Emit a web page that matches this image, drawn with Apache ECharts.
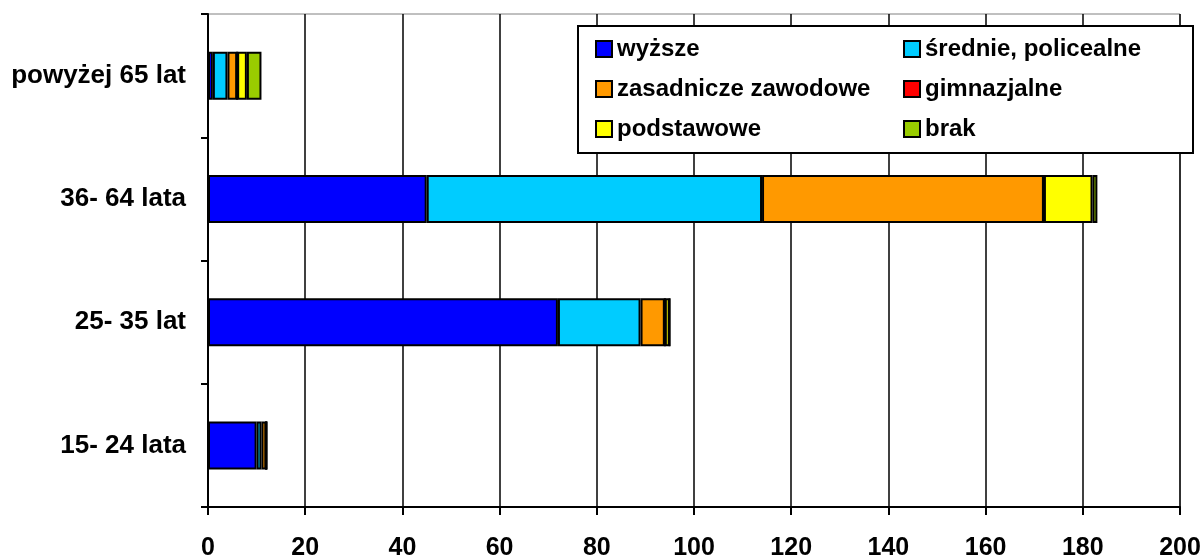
<!DOCTYPE html>
<html>
<head>
<meta charset="utf-8">
<script src="https://cdn.jsdelivr.net/npm/echarts@6/dist/echarts.min.js"></script>
<style>
  html, body { margin: 0; padding: 0; background: #fff; }
  #main { width: 1204px; height: 558px; }
</style>
</head>
<body>
<div id="main"></div>
<script>
// kategorie wiekowe (od dołu do góry)
var ageGroups = ["15- 24 lata", "25- 35 lat", "36- 64 lata", "powyżej 65 lat"];
// wykształcenie
var wyzsze = [10, 72, 45, 1];
var srednie = [1, 17, 69, 3];
var zasadnicze = [1, 5, 58, 2];
var gimnazjalne = [0, 0, 0, 0];
var podstawowe = [0, 1, 10, 2];
var brak = [0, 0, 1, 3];

var font = "Liberation Sans";

function bar(name, data, color) {
  return {
    name: name,
    type: "bar",
    stack: "all",
    barWidth: 48,
    data: data,
    itemStyle: { color: color, borderColor: "#000", borderWidth: 2 },
  };
}

var legendText = { fontFamily: font, fontWeight: "bold", fontSize: 24, color: "#000" };

var myChart = echarts.init(document.getElementById("main"));
var option = {
  animation: false,
  backgroundColor: "#fff",
  grid: {
    left: 208, right: 24, top: 14, bottom: 51,
    outerBoundsMode: "none",
    show: true, borderColor: "#808080", borderWidth: 1,
  },
  xAxis: {
    type: "value",
    min: 0, max: 200, interval: 20,
    axisLine: { show: true, lineStyle: { color: "#000", width: 2 } },
    axisTick: { show: true, length: 8, lineStyle: { color: "#000", width: 2 } },
    axisLabel: { margin: 29, color: "#000", fontFamily: font, fontWeight: "bold", fontSize: 25 },
    splitLine: { show: true, lineStyle: { color: "#000", width: 1.5 } },
  },
  yAxis: {
    type: "category",
    data: ageGroups,
    axisLine: { show: true, lineStyle: { color: "#000", width: 2 } },
    axisTick: { show: true, length: 7, lineStyle: { color: "#000", width: 2 } },
    axisLabel: { margin: 22, color: "#000", fontFamily: font, fontWeight: "bold", fontSize: 26 },
  },
  legend: [
    {
      orient: "vertical", left: 595, top: 37, padding: 0,
      icon: "rect", itemWidth: 16, itemHeight: 16, itemGap: 16,
      itemStyle: { borderColor: "#000", borderWidth: 2 },
      textStyle: legendText,
      data: ["wyższe", "zasadnicze zawodowe", "podstawowe"],
    },
    {
      orient: "vertical", left: 903, top: 37, padding: 0,
      icon: "rect", itemWidth: 16, itemHeight: 16, itemGap: 16,
      itemStyle: { borderColor: "#000", borderWidth: 2 },
      textStyle: legendText,
      data: ["średnie, policealne", "gimnazjalne", "brak"],
    },
  ],
  graphic: [
    {
      type: "rect", z: 3,
      shape: { x: 578, y: 26, width: 615, height: 127 },
      style: { fill: "#fff", stroke: "#000", lineWidth: 2 },
    },
  ],
  series: [
    bar("wyższe", wyzsze, "#0000FF"),
    bar("średnie, policealne", srednie, "#00CCFF"),
    bar("zasadnicze zawodowe", zasadnicze, "#FF9900"),
    bar("gimnazjalne", gimnazjalne, "#FF0000"),
    bar("podstawowe", podstawowe, "#FFFF00"),
    bar("brak", brak, "#99CC00"),
  ],
};
myChart.setOption(option);
</script>
</body>
</html>
